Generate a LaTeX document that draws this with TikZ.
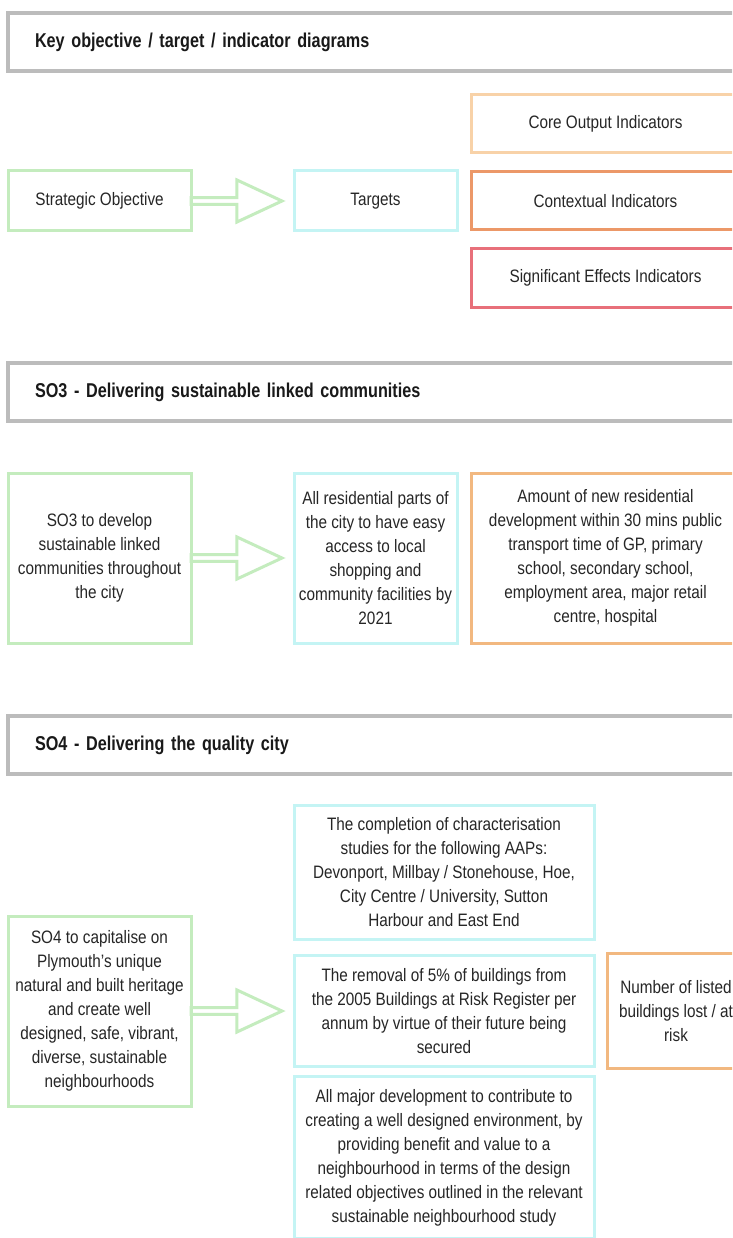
\documentclass[tikz,border=0pt]{standalone}
\usepackage{fontspec}
\setmainfont{Liberation Sans}[FakeStretch=0.85]
\newfontfamily\barfamily{Liberation Sans}[FakeStretch=0.81]
\usetikzlibrary{positioning, shapes.arrows}
\definecolor{barGray}{RGB}{188,188,188}
\definecolor{objGreen}{RGB}{196,236,190}
\definecolor{tgtCyan}{RGB}{196,244,244}
\definecolor{coreOrange}{RGB}{248,210,168}
\definecolor{ctxOrange}{RGB}{236,152,104}
\definecolor{sigRed}{RGB}{232,112,122}
\definecolor{indOrange}{RGB}{242,184,128}
\newcommand{\boxfont}{\fontsize{18pt}{24pt}\selectfont}
\newcommand{\barfont}{\barfamily\fontsize{20pt}{24pt}\selectfont\bfseries\spaceskip=4.2pt plus 1pt minus 1pt\relax}

\begin{document}
\begin{tikzpicture}[
    x=1pt, y=1pt,
    box/.style={draw, line width=3pt, rectangle, align=center, font=\boxfont, text=black!85, inner sep=4pt, outer sep=0pt, fill=white},
    titlebar/.style={draw=barGray, line width=3.5pt, rectangle, minimum height=58pt, text width=686pt, align=left, inner xsep=27pt, font=\barfont, text=black!90, anchor=north west, outer sep=0pt, fill=white},
    fatarrow/.style={draw=objGreen, line width=3pt, single arrow, single arrow head extend=8pt, single arrow tip angle=50, minimum width=42pt, minimum height=91pt, inner sep=0pt, outer sep=0pt}
]
\useasboundingbox (0,0) rectangle (732,-1238);
\fill[white] (0,0) rectangle (732,-1238);
\clip (0,0) rectangle (732,-1238);

% Key diagram
\node[titlebar] (H1) at (8,-13) {Key objective / target / indicator diagrams};
\node[box, draw=objGreen, minimum width=183pt, minimum height=60pt, below=100pt of H1.south west, anchor=north west] (O1) {Strategic Objective};
\node[box, draw=tgtCyan, minimum width=163pt, minimum height=60pt, right=103pt of O1] (T1) {Targets};
\node[box, draw=ctxOrange, minimum width=269pt, minimum height=58pt, right=14pt of T1] (I1b) {Contextual Indicators};
\node[box, draw=coreOrange, minimum width=269pt, minimum height=58pt, above=19pt of I1b] (I1a) {Core Output Indicators};
\node[box, draw=sigRed, minimum width=269pt, minimum height=58pt, below=19pt of I1b] (I1c) {Significant Effects Indicators};
\node[fatarrow, right=0pt of O1] (R1) {};

% SO3
\node[titlebar] (H2) at (8,-363) {SO3 - Delivering sustainable linked communities};
\node[box, draw=objGreen, minimum width=183pt, minimum height=170pt, below=52pt of H2.south west, anchor=north west] (O2) {SO3 to develop\\sustainable linked\\communities throughout\\the city};
\node[box, draw=tgtCyan, minimum width=163pt, minimum height=170pt, right=103pt of O2] (T2) {All residential parts of\\the city to have easy\\access to local\\shopping and\\community facilities by\\2021};
\node[box, draw=indOrange, minimum width=269pt, minimum height=170pt, right=14pt of T2] (I2) {Amount of new residential\\development within 30 mins public\\transport time of GP, primary\\school, secondary school,\\employment area, major retail\\centre, hospital};
\node[fatarrow, right=0pt of O2] (R2) {};

% SO4
\node[titlebar] (H3) at (8,-716) {SO4 - Delivering the quality city};
\node[box, draw=objGreen, minimum width=183pt, minimum height=190pt, below=142pt of H3.south west, anchor=north west] (O3) {SO4 to capitalise on\\Plymouth’s unique\\natural and built heritage\\and create well\\designed, safe, vibrant,\\diverse, sustainable\\neighbourhoods};
\node[box, draw=tgtCyan, minimum width=300pt, minimum height=111pt, right=103pt of O3] (T3b) {The removal of 5\% of buildings from\\the 2005 Buildings at Risk Register per\\annum by virtue of their future being\\secured};
\node[box, draw=tgtCyan, minimum width=300pt, minimum height=134pt, above=16pt of T3b] (T3a) {The completion of characterisation\\studies for the following AAPs:\\Devonport, Millbay / Stonehouse, Hoe,\\City Centre / University, Sutton\\Harbour and East End};
\node[box, draw=tgtCyan, minimum width=300pt, minimum height=162pt, below=10pt of T3b] (T3c) {All major development to contribute to\\creating a well designed environment, by\\providing benefit and value to a\\neighbourhood in terms of the design\\related objectives outlined in the relevant\\sustainable neighbourhood study};
\node[box, draw=indOrange, minimum width=138pt, minimum height=115pt, right=13pt of T3b] (I3) {Number of listed\\buildings lost / at\\risk};
\node[fatarrow, right=0pt of O3] (R3) {};

\end{tikzpicture}
\end{document}
